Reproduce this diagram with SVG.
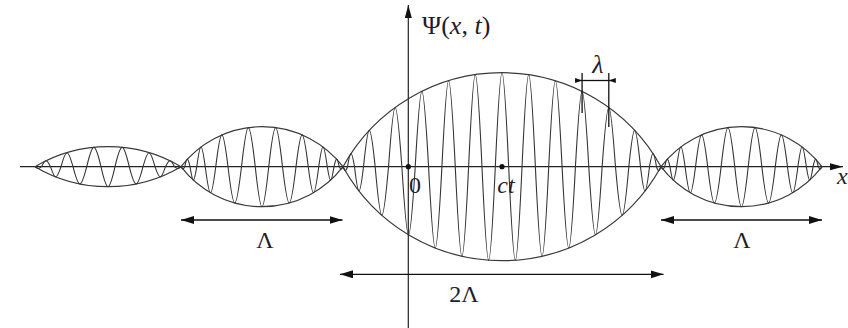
<svg xmlns="http://www.w3.org/2000/svg" xmlns:xlink="http://www.w3.org/1999/xlink" width="848" height="328" viewBox="0 0 848 328">
<style>
.wave{fill:none;stroke:#333;stroke-width:1.1;}
.env{fill:none;stroke:#3a3a3a;stroke-width:1.2;}
.axis{fill:none;stroke:#222;stroke-width:1.2;}
.dim{fill:none;stroke:#111;stroke-width:1.3;}
.lbl{font-family:"Liberation Serif","Times New Roman",serif;font-size:24px;fill:#1e1e28;}
.big{font-size:26px;}
.it{font-style:italic;}
</style>
<defs>
<marker id="axarrow" markerUnits="userSpaceOnUse" markerWidth="14" markerHeight="8" refX="13" refY="3.5" orient="auto-start-reverse"><path d="M0,0 L13,3.5 L0,7 Z" fill="#111"/></marker>
<marker id="arr" markerUnits="userSpaceOnUse" markerWidth="14" markerHeight="9" refX="13" refY="4" orient="auto-start-reverse"><path d="M0,0 L13,4 L0,8 Z" fill="#111"/></marker>
<marker id="arrs" markerUnits="userSpaceOnUse" markerWidth="8" markerHeight="6" refX="7" refY="2.5" orient="auto"><path d="M0,0 L7,2.5 L0,5 Z" fill="#111"/></marker>
<path id="carrierB" class="wave" vector-effect="non-scaling-stroke" d="M-81,0 C-79.41,3.17 -78.84,3.17 -77.25,0 C-75.02,-10.05 -74.23,-10.05 -72,0 C-69.13,17.96 -68.12,17.96 -65.25,0 C-61.64,-26.35 -60.36,-26.35 -56.75,0 C-52.29,34.73 -50.71,34.73 -46.25,0 C-41.04,-42.37 -39.21,-42.37 -34,0 C-28.26,48.4 -26.24,48.4 -20.5,0 C-14.66,-52.12 -12.59,-52.12 -6.75,0 C-1.01,53.33 1.01,53.33 6.75,0 C12.59,-52.12 14.66,-52.12 20.5,0 C26.24,48.4 28.26,48.4 34,0 C39.21,-42.37 41.04,-42.37 46.25,0 C50.71,34.73 52.29,34.73 56.75,0 C60.36,-26.35 61.64,-26.35 65.25,0 C68.12,17.96 69.13,17.96 72,0 C74.23,-10.05 75.02,-10.05 77.25,0 C78.84,3.17 79.41,3.17 81,0"/>
</defs>

<g id="axes">
<line class="axis" x1="20" y1="166.7" x2="843" y2="166.7" marker-end="url(#axarrow)"/>
<line class="axis" x1="408.3" y1="328" x2="408.3" y2="5" marker-end="url(#axarrow)"/>
</g>

<g id="lobe1" transform="translate(108,166.7)">
<path class="env" d="M-73,0 A143.2,143.2 0 0 1 73,0 A143.2,143.2 0 0 1 -73,0 Z"/>
<path class="wave" d="M-73,0 C-70.24,2.49 -69.26,2.49 -66.5,0 C-62.67,-7.84 -61.33,-7.84 -57.5,0 C-53.04,13.51 -51.46,13.51 -47,0 C-41.9,-18.68 -40.1,-18.68 -35,0 C-29.16,22.95 -27.09,22.95 -21.25,0 C-15.19,-25.73 -13.06,-25.73 -7,0 C-1.05,26.67 1.05,26.67 7,0 C13.06,-25.73 15.19,-25.73 21.25,0 C27.09,22.95 29.16,22.95 35,0 C40.1,-18.68 41.9,-18.68 47,0 C51.46,13.51 53.04,13.51 57.5,0 C61.33,-7.84 62.67,-7.84 66.5,0 C69.26,2.49 70.24,2.49 73,0"/>
</g>

<g id="lobe2" transform="translate(262,166.7)">
<path class="env" d="M-81,0 A102.01,102.01 0 0 1 81,0 A102.01,102.01 0 0 1 -81,0 Z"/>
<use xlink:href="#carrierB" href="#carrierB"/>
</g>

<g id="lobe3" transform="translate(502,166.7)">
<path class="env" d="M-159,0 A181.47,181.47 0 0 1 159,0 A181.47,181.47 0 0 1 -159,0 Z"/>
<path class="wave" d="M-159,0 C-157.09,5.29 -156.41,5.29 -154.5,0 C-151.52,-17.57 -150.48,-17.57 -147.5,0 C-143.67,32.33 -142.33,32.33 -138.5,0 C-133.54,-48.48 -131.79,-48.48 -126.83,0 C-121.15,64.71 -119.15,64.71 -113.48,0 C-107.8,-79 -105.8,-79 -100.13,0 C-94.45,90.79 -92.45,90.79 -86.78,0 C-81.1,-100.49 -79.1,-100.49 -73.43,0 C-67.75,108.37 -65.75,108.37 -60.08,0 C-54.4,-114.63 -52.4,-114.63 -46.73,0 C-41.05,119.37 -39.05,119.37 -33.38,0 C-27.7,-122.71 -25.7,-122.71 -20.03,0 C-14.35,124.68 -12.35,124.68 -6.68,0 C-1,-125.33 1,-125.33 6.68,0 C12.35,124.68 14.35,124.68 20.03,0 C25.7,-122.71 27.7,-122.71 33.38,0 C39.05,119.37 41.05,119.37 46.73,0 C52.4,-114.63 54.4,-114.63 60.08,0 C65.75,108.37 67.75,108.37 73.43,0 C79.1,-100.49 81.1,-100.49 86.78,0 C92.45,90.79 94.45,90.79 100.13,0 C105.8,-79 107.8,-79 113.48,0 C119.15,64.71 121.15,64.71 126.83,0 C131.79,-48.48 133.54,-48.48 138.5,0 C142.33,32.33 143.67,32.33 147.5,0 C150.48,-17.57 151.52,-17.57 154.5,0 C156.41,5.29 157.09,5.29 159,0"/>
</g>

<g id="lobe4" transform="translate(741.5,166.7)">
<path class="env" d="M-80.5,0 A101,101 0 0 1 80.5,0 A101,101 0 0 1 -80.5,0 Z"/>
<use xlink:href="#carrierB" href="#carrierB" transform="scale(0.9938,1)"/>
</g>

<g id="points">
<circle cx="408.3" cy="166.7" r="2.6" fill="#111"/>
<circle cx="502" cy="166.7" r="2.6" fill="#111"/>
</g>

<g id="connectors">
<line class="dim" x1="181" y1="220" x2="342.5" y2="220" marker-start="url(#arr)" marker-end="url(#arr)"/>
<line class="dim" x1="661" y1="220" x2="822" y2="220" marker-start="url(#arr)" marker-end="url(#arr)"/>
<line class="dim" x1="340" y1="274.3" x2="663.5" y2="274.3" marker-start="url(#arr)" marker-end="url(#arr)"/>
<line class="dim" x1="582.1" y1="73" x2="582.1" y2="113"/>
<line class="dim" x1="608.8" y1="73" x2="608.8" y2="127"/>
<line class="dim" x1="575" y1="80.5" x2="582.1" y2="80.5" marker-end="url(#arrs)"/>
<line class="dim" x1="615" y1="80.5" x2="608.8" y2="80.5" marker-end="url(#arrs)"/>
<line class="dim" x1="582.1" y1="80.5" x2="608.8" y2="80.5"/>
</g>

<g id="labels">
<text class="lbl big" x="422" y="34">Ψ(<tspan class="it">x</tspan>, <tspan class="it">t</tspan>)</text>
<text class="lbl big it" x="598" y="73" text-anchor="middle">λ</text>
<text class="lbl" x="415" y="193" text-anchor="middle">0</text>
<text class="lbl it" x="506" y="193" text-anchor="middle">ct</text>
<text class="lbl it" x="837" y="184">x</text>
<text class="lbl" x="265" y="248" text-anchor="middle">Λ</text>
<text class="lbl" x="742" y="248" text-anchor="middle">Λ</text>
<text class="lbl" x="464" y="302" text-anchor="middle">2Λ</text>
</g>
</svg>
